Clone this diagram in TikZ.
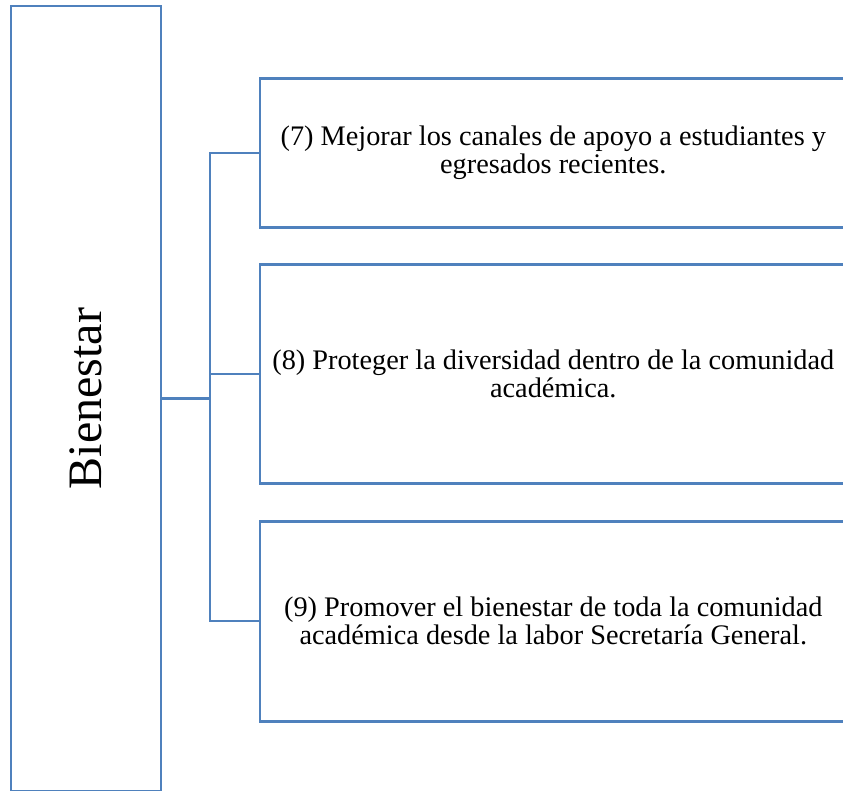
\documentclass[tikz,border=0pt]{standalone}
\usepackage{fontspec}
\setmainfont{Liberation Serif}
\usetikzlibrary{positioning}
\definecolor{boxblue}{RGB}{79,129,189}

\begin{document}
\begin{tikzpicture}[
			x=1pt, y=1pt,
			areabox/.style={rectangle, draw=boxblue, line width=2.6pt, minimum width=150pt, minimum height=785pt},
			goalbox/.style={rectangle, draw=boxblue, line width=2.6pt, minimum width=587pt, align=center, anchor=north west, font=\fontsize{28.3}{28}\selectfont},
			link/.style={draw=boxblue, line width=2.3pt}
	]
		\useasboundingbox (0,0) rectangle (843,791);
		\clip (0,0) rectangle (843,791);
	
		\node (bien) [areabox] at (86,392.5) {};
		\node (bientext) [rotate=90, font=\fontsize{48}{50}\selectfont] at (bien.center) {Bienestar};
		
		\node (g7) [goalbox, minimum height=149pt] at (258.5,714) {(7) Mejorar los canales de apoyo a estudiantes y\\ egresados recientes.};
		\node (g8) [goalbox, minimum height=219.5pt] at (258.5,528) {(8) Proteger la diversidad dentro de la comunidad\\ académica.};
		\node (g9) [goalbox, minimum height=200pt] at (258.5,271) {(9) Promover el bienestar de toda la comunidad\\ académica desde la labor Secretaría General.};
		
		\coordinate (fork) at ([xshift=48pt]bien.east);
		
		\draw [link] (bien.east) -- (fork);
		\draw [link] (fork) |- (g7.west);
		\draw [link] (fork) |- (g8.west);
		\draw [link] (fork) |- (g9.west);
	\end{tikzpicture}
\end{document}
